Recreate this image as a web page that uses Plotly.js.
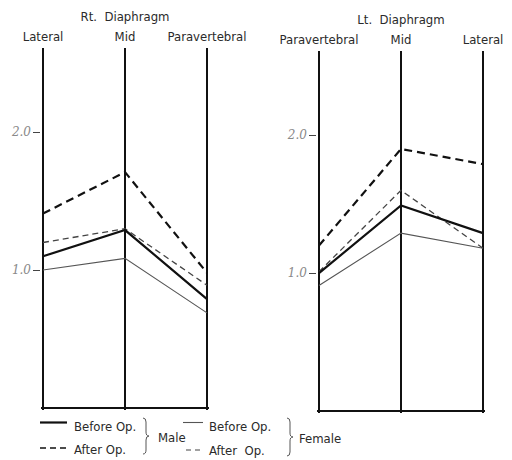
<!DOCTYPE html>
<html>
<head>
<meta charset="utf-8">
<script src="https://cdn.plot.ly/plotly-3.0.1.min.js"></script>
<style>html,body{margin:0;padding:0;background:#fff;}#chart{width:512px;height:460px;}</style>
</head>
<body>
<div id="chart"></div>
<script>
// ---- data ----
const rtCategories = ['Lateral', 'Mid', 'Paravertebral'];
const ltCategories = ['Paravertebral', 'Mid', 'Lateral'];
const rtMaleBefore   = [1.10, 1.29, 0.79];
const rtMaleAfter    = [1.41, 1.71, 0.98];
const rtFemaleBefore = [1.00, 1.085, 0.69];
const rtFemaleAfter  = [1.20, 1.30, 0.89];
const ltMaleBefore   = [1.00, 1.49, 1.29];
const ltMaleAfter    = [1.20, 1.90, 1.79];
const ltFemaleBefore = [0.91, 1.29, 1.18];
const ltFemaleAfter  = [1.01, 1.60, 1.18];
const yTickVals = [1, 2];
const yTickText = ['1.0', '2.0'];

// ---- styles ----
const W = 512, H = 460;
const px = x => x / W, py = y => 1 - y / H;
const FONT = 'DejaVu Sans Condensed, Liberation Sans Narrow, sans-serif';
const styles = {
  maleBefore:   {color: '#111', width: 2.2, dash: 'solid'},
  maleAfter:    {color: '#111', width: 2.2, dash: '8px,5px'},
  femaleBefore: {color: '#555', width: 1.1, dash: 'solid'},
  femaleAfter:  {color: '#444', width: 1.3, dash: '6px,4px'}
};

function mk(cats, vals, st, xa, ya, name) {
  return {x: cats, y: vals, type: 'scatter', mode: 'lines', name: name,
          xaxis: xa, yaxis: ya, line: {color: st.color, width: st.width, dash: st.dash},
          showlegend: false, hoverinfo: 'skip'};
}

const data = [
  mk(rtCategories, rtFemaleBefore, styles.femaleBefore, 'x', 'y', 'Female Before Op.'),
  mk(rtCategories, rtFemaleAfter, styles.femaleAfter, 'x', 'y', 'Female After Op.'),
  mk(rtCategories, rtMaleBefore, styles.maleBefore, 'x', 'y', 'Male Before Op.'),
  mk(rtCategories, rtMaleAfter, styles.maleAfter, 'x', 'y', 'Male After Op.'),
  mk(ltCategories, ltFemaleBefore, styles.femaleBefore, 'x2', 'y2', 'Female Before Op.'),
  mk(ltCategories, ltFemaleAfter, styles.femaleAfter, 'x2', 'y2', 'Female After Op.'),
  mk(ltCategories, ltMaleBefore, styles.maleBefore, 'x2', 'y2', 'Male Before Op.'),
  mk(ltCategories, ltMaleAfter, styles.maleAfter, 'x2', 'y2', 'Male After Op.')
];

function xAxis(cats, domain, title, anchor) {
  return {
    domain: domain, type: 'category', categoryorder: 'array', categoryarray: cats,
    range: [-0.02, 2.02], side: 'top', anchor: anchor,
    showgrid: true, gridcolor: '#111', gridwidth: 1.6,
    showline: false, zeroline: false, ticks: '', fixedrange: true, ticklabelstandoff: 3,
    tickfont: {family: FONT, size: 13, color: '#2a2a2a'},
    title: {text: title, font: {family: FONT, size: 13, color: '#2a2a2a'}, standoff: 4}
  };
}
function yAxis(domain, anchor) {
  return {
    domain: domain, anchor: anchor, range: [-0.012, 2.61],
    tickmode: 'array', tickvals: yTickVals, ticktext: yTickText,
    ticks: 'outside', ticklen: 7, tickwidth: 1, tickcolor: '#444',
    showgrid: false, showline: false,
    zeroline: true, zerolinecolor: '#111', zerolinewidth: 1.6,
    tickfont: {family: 'DejaVu Serif, serif', style: 'italic', size: 12, color: '#8a8a8a'},
    fixedrange: true
  };
}

function brace(x, y0, y1) {
  const ym = (y0 + y1) / 2, w = 3;
  const P = (a, b) => px(a).toFixed(5) + ',' + py(b).toFixed(5);
  return {type: 'path', xref: 'paper', yref: 'paper',
    path: 'M' + P(x, y0) + ' Q' + P(x + w, y0) + ' ' + P(x + w, y0 + 4) +
          ' L' + P(x + w, ym - 4) + ' Q' + P(x + w, ym) + ' ' + P(x + 2 * w, ym) +
          ' Q' + P(x + w, ym) + ' ' + P(x + w, ym + 4) +
          ' L' + P(x + w, y1 - 4) + ' Q' + P(x + w, y1) + ' ' + P(x, y1),
    line: {color: '#555', width: 1}};
}
function sample(x0, x1, y, st) {
  return {type: 'line', xref: 'paper', yref: 'paper', x0: px(x0), x1: px(x1), y0: py(y), y1: py(y),
          line: {color: st.color, width: st.width, dash: st.dash}};
}
function label(text, x, y) {
  return {text: text, xref: 'paper', yref: 'paper', x: px(x), y: py(y), xanchor: 'left', yanchor: 'middle',
          showarrow: false, font: {family: FONT, size: 13, color: '#2a2a2a'}};
}

const layout = {
  width: W, height: H, margin: {l: 0, r: 0, t: 0, b: 0},
  paper_bgcolor: '#fff', plot_bgcolor: 'rgba(0,0,0,0)',
  xaxis: xAxis(rtCategories, [0.0808, 0.4075], 'Rt.  Diaphragm', 'y'),
  yaxis: yAxis([0.1094, 0.8957], 'x'),
  xaxis2: xAxis(ltCategories, [0.6198, 0.9466], 'Lt.  Diaphragm', 'y2'),
  yaxis2: yAxis([0.1028, 0.8891], 'x2'),
  shapes: [
    sample(40, 67, 422.5, styles.maleBefore),
    sample(40, 67, 448, {color: '#111', width: 1.6, dash: '6px,4px'}),
    sample(183, 203, 422.5, styles.femaleBefore),
    sample(186, 203, 450, {color: '#444', width: 1.2, dash: '5px,4px'}),
    brace(143, 418, 454),
    brace(287, 418, 456)
  ],
  annotations: [
    label('Before Op.', 72, 426),
    label('After Op.', 72, 449),
    label('Male', 156, 437),
    label('Before Op.', 207, 426),
    label('After  Op.', 207, 450),
    label('Female', 297, 438)
  ]
};

Plotly.newPlot('chart', data, layout, {staticPlot: true, displayModeBar: false});
</script>
</body>
</html>
